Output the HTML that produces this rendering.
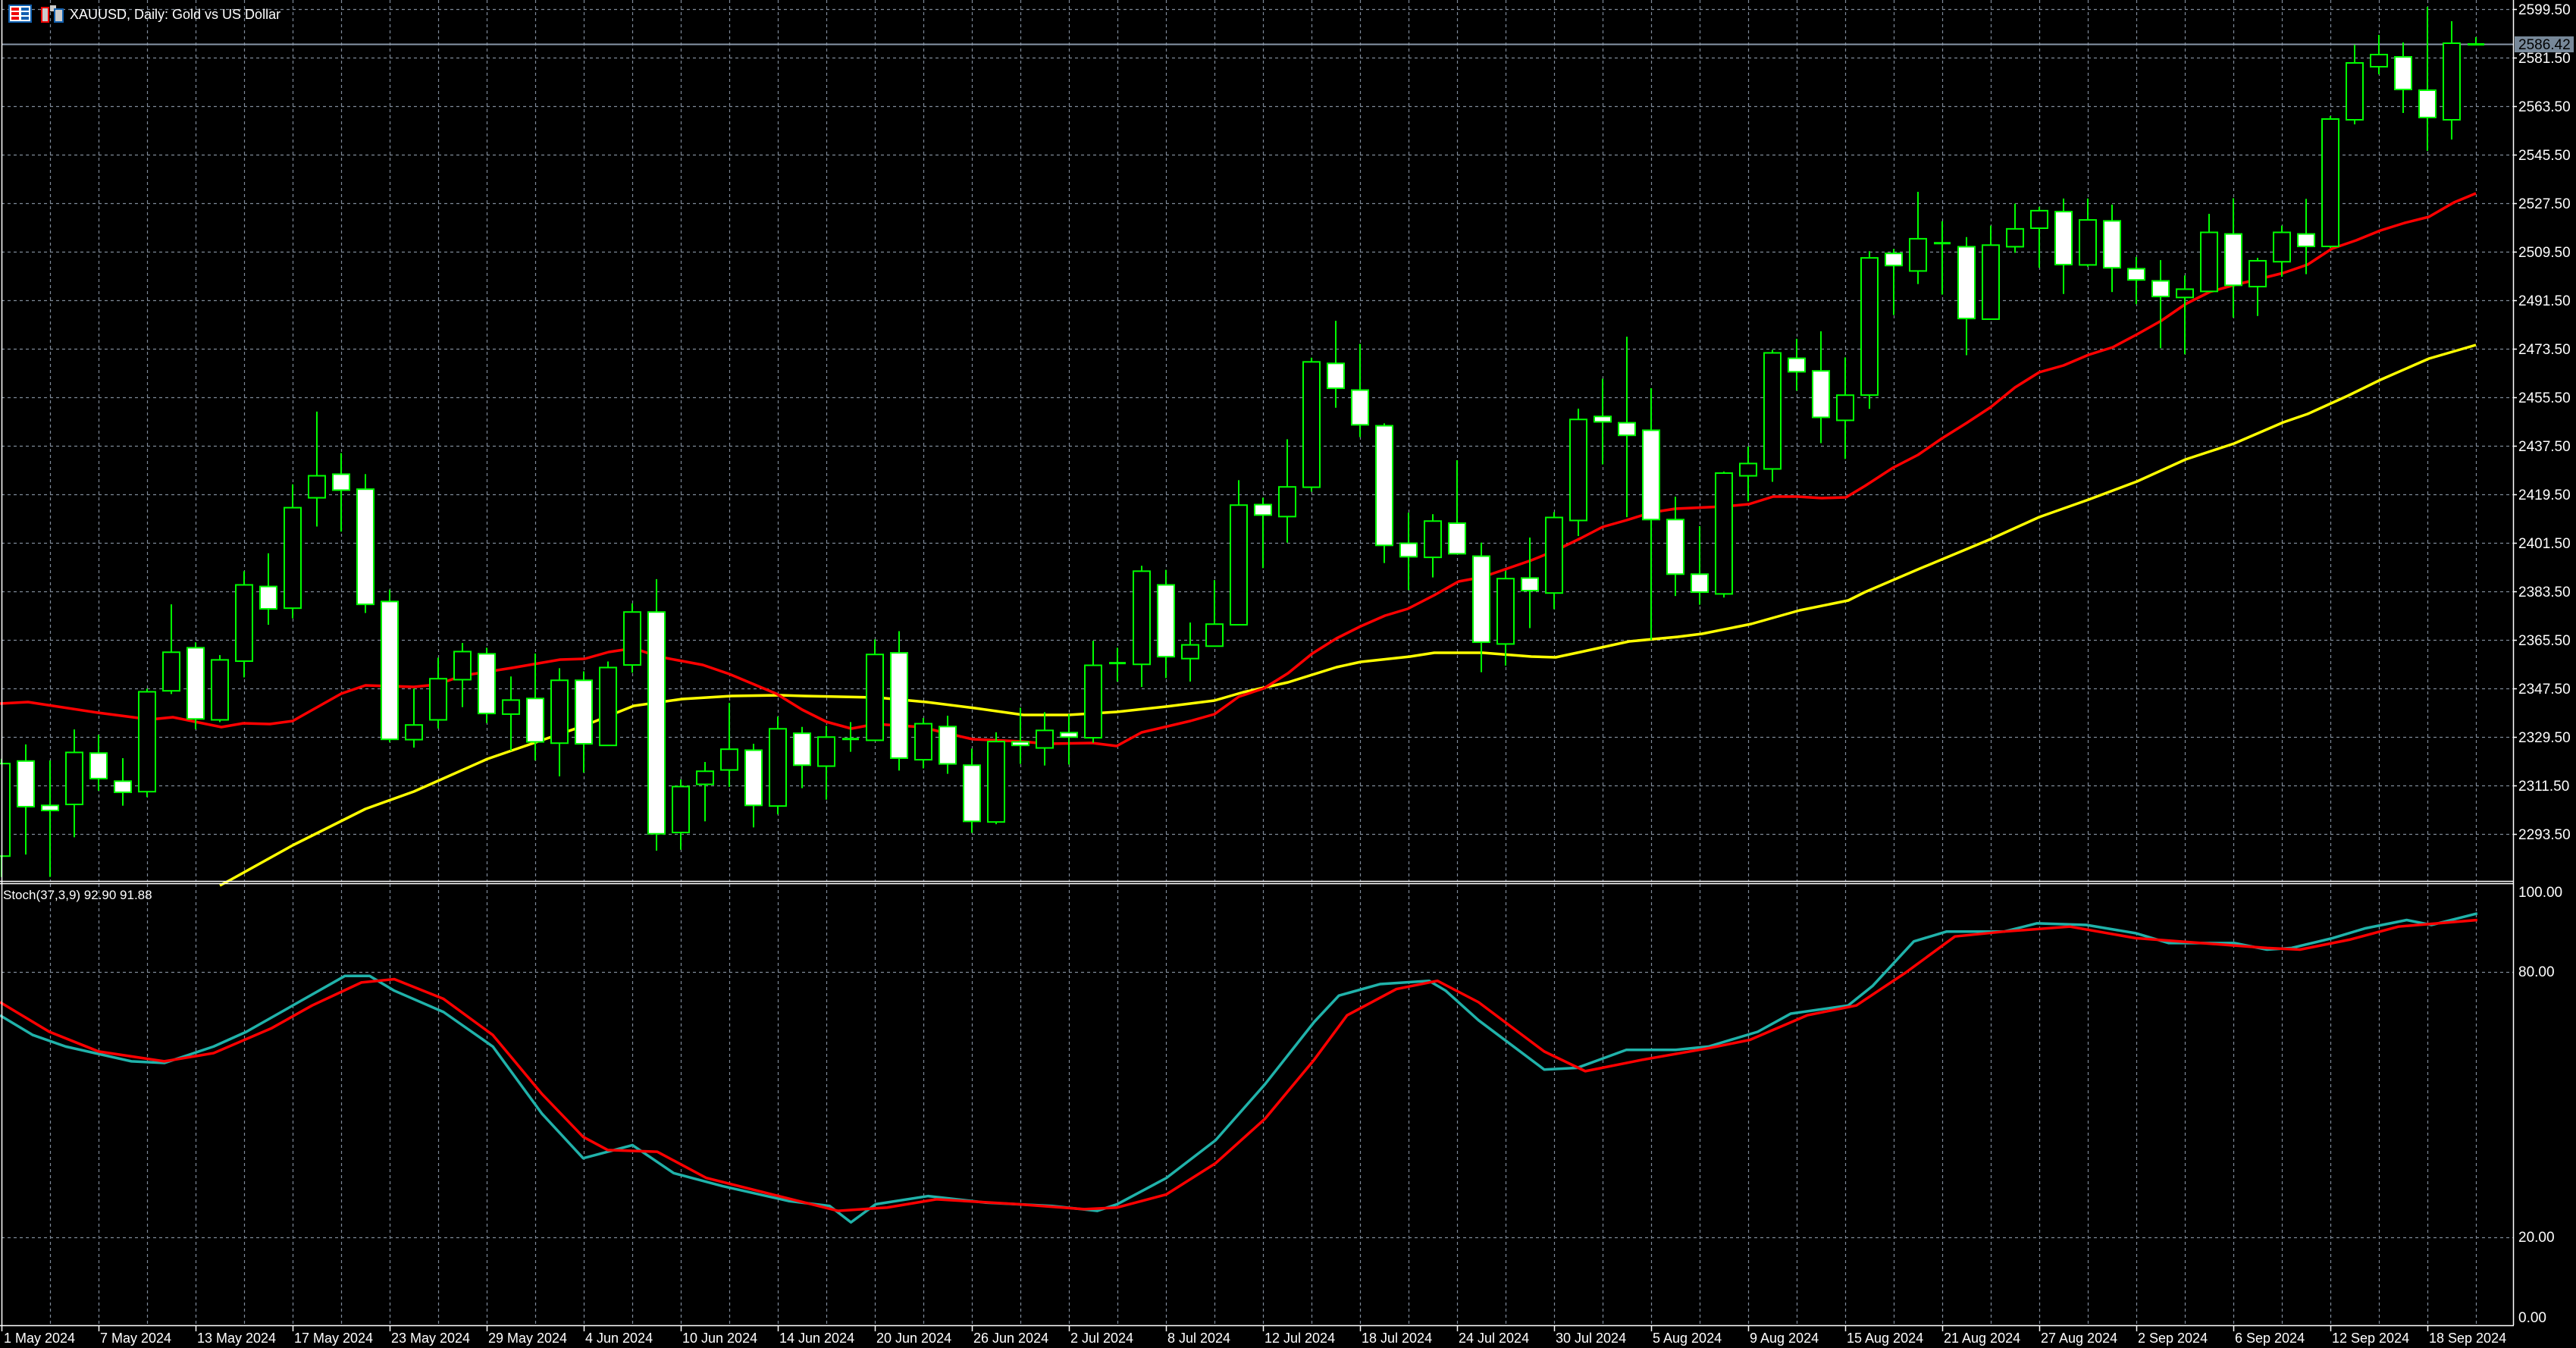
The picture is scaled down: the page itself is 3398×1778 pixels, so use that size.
<!DOCTYPE html>
<html><head><meta charset="utf-8">
<style>
html,body{margin:0;padding:0;background:#000;width:3398px;height:1778px;overflow:hidden}
svg{display:block}
text{font-family:"Liberation Sans",sans-serif}
</style></head>
<body>
<svg id="c" xmlns="http://www.w3.org/2000/svg" width="3398" height="1778" viewBox="0 0 3398 1778">
<rect width="3398" height="1778" fill="#000"/>
<g id="grid"></g>
<g id="ma"></g>
<g id="candles"></g>
<g id="stoch"></g>
<g id="axes"></g>
<!-- title -->
<g>
<rect x="12" y="7" width="29" height="22" fill="#fff" stroke="#1060b0" stroke-width="2"/>
<rect x="15" y="10" width="10" height="4" fill="#e00"/><rect x="15" y="16" width="10" height="4" fill="#e00"/><rect x="15" y="22" width="10" height="4" fill="#e00"/>
<rect x="28" y="10" width="10" height="4" fill="#1060b0"/><rect x="28" y="16" width="10" height="4" fill="#1060b0"/><rect x="28" y="22" width="10" height="4" fill="#1060b0"/>
<rect x="55" y="10" width="9" height="19" fill="#ccc" stroke="#e00" stroke-width="2"/>
<rect x="66" y="7" width="8" height="8" fill="#ccc"/>
<rect x="72" y="12" width="11" height="17" fill="#ccc" stroke="#1060b0" stroke-width="2"/>
<text x="92" y="25" font-size="18" fill="#fff">XAUUSD, Daily:  Gold vs US Dollar</text>
<text x="4" y="1186" font-size="17" fill="#fff">Stoch(37,3,9) 92.90 91.88</text>
</g>
</svg>
<script>
(function(){
var NS="http://www.w3.org/2000/svg";
function el(p,tag,a){var e=document.createElementNS(NS,tag);for(var k in a)e.setAttribute(k,a[k]);p.appendChild(e);return e;}
var grid=document.getElementById('grid'),ma=document.getElementById('ma'),cg=document.getElementById('candles'),sg=document.getElementById('stoch'),ax=document.getElementById('axes');
var gc="#7f8a99";
// horizontal grid main
for(var k=0;k<=17;k++){var y=12+64*k+0.5;el(grid,'line',{x1:2,y1:y,x2:3315,y2:y,stroke:gc,'stroke-width':1.2,'stroke-dasharray':'4 4'});}
// stoch grid
[1282,1632].forEach(function(y){el(grid,'line',{x1:2,y1:y+0.5,x2:3315,y2:y+0.5,stroke:gc,'stroke-width':1.2,'stroke-dasharray':'4 4'});});
// vertical grid
for(var k=1;k<=51;k++){var x=2+64*k+0.5;el(grid,'line',{x1:x,y1:0,x2:x,y2:1162,stroke:gc,'stroke-width':1.2,'stroke-dasharray':'4 4'});el(grid,'line',{x1:x,y1:1166,x2:x,y2:1748,stroke:gc,'stroke-width':1.2,'stroke-dasharray':'4 4'});}
// current price line
el(grid,'line',{x1:2,y1:58.5,x2:3315,y2:58.5,stroke:"#8896a8",'stroke-width':2});

// candles
var segs=[
 {o:500,s:2.376,d:[[1190,1205,1495,1560,'B'],[1145,1197,1340,1490,'W'],[1195,1336,1352,1560,'W'],[1098,1170,1333,1436,'B'],[1115,1172,1252,1290,'W'],[1188,1260,1295,1337,'W'],[970,980,1293,1310,'B'],[706,856,977,987,'B'],[825,842,1065,1097,'W'],[865,880,1068,1075,'B'],[602,645,884,935,'B'],[546,650,720,770,'W'],[330,403,718,750,'B'],[102,303,372,462,'B'],[232,298,348,478,'W'],[298,345,706,733,'W'],[660,697,1129,1138,'W'],[970,1084,1130,1155,'B'],[873,939,1068,1095,'B'],[827,854,942,1028,'B'],[842,861,1048,1078,'W'],[932,1006,1050,1165,'B'],[860,1001,1137,1195,'W'],[906,944,1141,1245,'B'],[916,944,1143,1233,'W'],[885,904,1148,1150,'B'],[703,730,896,920,'B']]},
 {o:500,s:2.376,d:[[627,730,1425,1478,'W'],[1255,1277,1421,1475,'B'],[1200,1229,1270,1386,'B'],[1015,1160,1225,1278,'B'],[1143,1163,1336,1405,'W'],[1058,1096,1338,1364,'B'],[1090,1110,1210,1282,'W'],[1087,1122,1213,1318,'B'],[1075,1126,1130,1168,'D'],[816,863,1132,1132,'B'],[790,858,1188,1227,'W'],[1062,1080,1193,1220,'B'],[1055,1089,1206,1237,'W'],[1158,1210,1386,1422,'W'],[1107,1136,1388,1395,'B'],[1030,1137,1148,1206,'W'],[1044,1101,1156,1211,'B'],[1050,1108,1122,1208,'W'],[820,897,1124,1140,'B'],[842,889,891,948,'D'],[585,602,894,965,'B'],[598,645,870,937,'W'],[763,833,876,948,'B'],[630,768,837,838,'B'],[317,395,770,770,'B']]},
 {o:350,s:2.529,d:[[775,798,833,1010,'W'],[580,739,838,925,'B'],[308,322,740,755,'B'],[185,327,410,475,'W'],[262,416,532,573,'W'],[527,535,934,993,'W'],[825,927,972,1083,'W'],[830,853,974,1041,'B'],[650,860,962,962,'W'],[925,970,1257,1357,'W'],[1020,1045,1263,1335,'B'],[908,1043,1085,1210,'W'],[823,841,1093,1147,'B'],[478,514,851,903,'B'],[378,504,522,664,'W'],[238,525,567,840,'W'],[410,550,848,1250,'W'],[772,848,1030,1103,'W'],[870,1030,1090,1132,'W'],[688,693,1096,1108,'B'],[604,661,702,787,'B'],[282,292,679,722,'B'],[245,310,355,418,'W'],[220,352,507,593,'W'],[307,433,517,646,'B']]},
 {o:200,s:2.376,d:[[312,333,763,806,'B'],[305,319,357,512,'W'],[126,273,374,415,'B'],[218,284,290,448,'W'],[268,298,523,638,'W'],[232,293,525,526,'B'],[163,242,298,317,'B'],[173,185,240,364,'B'],[147,188,354,446,'W'],[147,214,355,361,'B'],[166,217,364,440,'W'],[330,367,402,478,'W'],[340,405,454,616,'W'],[388,431,457,635,'B'],[195,253,438,438,'B'],[146,258,419,520,'W'],[333,342,423,515,'B'],[232,253,345,392,'B'],[148,258,297,384,'W']]},
 {o:0,s:1,d:[[153,157,325,327,'B'],[59,83,158,164,'B'],[46,72,88,98,'B'],[56,75,118,149,'W'],[9,119,155,199,'W'],[28,57,158,184,'B'],[49,58,59,59,'D']]}
];
var i=0,G="#00ff00";
segs.forEach(function(sg2){sg2.d.forEach(function(c){
  var x=2+32*i;var f=function(v){return sg2.o+v/sg2.s;};
  var H=f(c[0]),T=f(c[1]),B=f(c[2]),L=f(c[3]);
  el(cg,'line',{x1:x,y1:H,x2:x,y2:L,stroke:G,'stroke-width':2});
  if(c[4]=='D'||B-T<3){el(cg,'line',{x1:x-11,y1:(T+B)/2,x2:x+11,y2:(T+B)/2,stroke:G,'stroke-width':3});}
  else el(cg,'rect',{x:x-11,y:T,width:22,height:B-T,fill:c[4]=='W'?'#fff':'#000',stroke:G,'stroke-width':2});
  i++;});});

// MAs
var red=[[0,928],[37,926],[129,940],[198,949],[228,946],[292,959],[321,954],[356,955],[386,951],[450,915],[482,904],[546,906],[576,903],[611,891],[675,881],[739,870],[771,869],[803,860],[836,855],[868,866],[927,877],[962,889],[1024,915],[1058,936],[1090,952],[1123,961],[1155,955],[1216,959],[1248,967],[1283,975],[1348,978],[1380,981],[1441,980],[1473,984],[1506,966],[1570,951],[1602,942],[1634,919],[1667,908],[1699,888],[1731,862],[1763,842],[1795,826],[1827,812],[1857,803],[1892,785],[1924,767],[1956,761],[1988,750],[2020,739],[2052,726],[2085,710],[2114,695],[2146,686],[2178,676],[2210,671],[2275,668],[2307,665],[2339,655],[2371,655],[2403,657],[2435,656],[2460,641],[2497,617],[2530,600],[2562,578],[2594,558],[2626,537],[2658,511],[2690,491],[2722,482],[2755,468],[2787,458],[2819,441],[2851,423],[2883,401],[2915,385],[2947,376],[2980,368],[3012,360],[3044,349],[3076,328],[3108,317],[3140,304],[3172,294],[3204,286],[3237,267],[3266,255]];
var yel=[[290,1168],[305,1160],[386,1115],[482,1067],[546,1044],[643,1001],[707,979],[771,957],[836,931],[900,922],[965,918],[1029,917],[1061,918],[1157,920],[1222,926],[1286,934],[1350,943],[1409,943],[1473,939],[1538,932],[1602,924],[1640,913],[1699,900],[1763,880],[1795,873],[1860,866],[1892,861],[1956,861],[2020,866],[2052,867],[2085,860],[2117,853],[2149,846],[2213,840],[2245,836],[2310,823],[2374,805],[2438,792],[2460,781],[2530,751],[2626,711],[2690,682],[2755,659],[2819,635],[2883,606],[2947,585],[3012,557],[3044,546],[3097,522],[3140,501],[3204,473],[3266,455]];
function pl(g,pts,col,w){el(g,'polyline',{points:pts.map(function(p){return p[0]+','+p[1];}).join(' '),fill:'none',stroke:col,'stroke-width':w,'stroke-linejoin':'round'});}
pl(ma,yel,'#ffff00',3.5);pl(ma,red,'#ff0000',3.5);

// stoch (display coords *2.167)
var k=2.167;
var cy=[[0,618],[20,630],[40,637],[80,646],[100,647],[130,637],[150,628],[180,611],[210,594],[225,594],[240,603],[270,616],[300,637],[330,678],[355,705],[385,697],[410,714],[440,722],[480,731],[505,734],[518,744],[533,733],[565,728],[600,732],[640,734],[668,737],[680,733],[710,717],[740,694],[770,660],[800,622],[815,606],[840,599],[870,597],[880,603],[900,621],[920,636],[940,651],[960,650],[990,639],[1020,639],[1040,637],[1070,628],[1090,617],[1125,612],[1140,600],[1165,573],[1185,567],[1220,567],[1240,562],[1270,563],[1300,568],[1320,574],[1360,574],[1380,578],[1395,577],[1420,571],[1440,565],[1465,560],[1480,563],[1508,556]];
var rs=[[0,610],[30,628],[60,640],[100,646],[130,641],[165,626],[190,612],[220,598],[240,596],[270,608],[300,630],[330,666],[355,692],[370,700],[400,701],[430,717],[470,727],[510,737],[540,735],[570,730],[620,733],[660,736],[680,735],[710,727],[740,708],[770,681],[800,645],[820,618],[850,602],[875,597],[900,610],[940,640],[965,652],[1000,645],[1040,638],[1065,633],[1100,618],[1130,612],[1160,592],[1190,570],[1220,567],[1260,564],[1300,571],[1340,574],[1380,577],[1400,578],[1430,572],[1460,564],[1508,560]];
function sc(a){return a.map(function(p){return [p[0]*k,p[1]*k];});}
pl(sg,sc(cy),'#20b2aa',3.5);pl(sg,sc(rs),'#ff0000',3.5);

// axes lines
el(ax,'line',{x1:2.5,y1:0,x2:2.5,y2:1748,stroke:'#fff','stroke-width':1.5});
el(ax,'line',{x1:3315.5,y1:0,x2:3315.5,y2:1748,stroke:'#fff','stroke-width':1.5});
el(ax,'line',{x1:0,y1:1162.5,x2:3316,y2:1162.5,stroke:'#fff','stroke-width':1.5});
el(ax,'line',{x1:0,y1:1165.5,x2:3316,y2:1165.5,stroke:'#fff','stroke-width':1.5});
el(ax,'line',{x1:0,y1:1748.5,x2:3316,y2:1748.5,stroke:'#fff','stroke-width':1.5});
// price labels
for(var j=0;j<=17;j++){var p=2599.5-18*j;var y=12+64*j;
  el(ax,'line',{x1:3315,y1:y+0.5,x2:3320,y2:y+0.5,stroke:'#fff','stroke-width':1.5});
  var t=el(ax,'text',{x:3322,y:y+7,'font-size':19,fill:'#fff'});t.textContent=p.toFixed(2);}
// current price box
el(ax,'rect',{x:3317,y:48,width:78,height:21,fill:'#778899'});
var t=el(ax,'text',{x:3322,y:65,'font-size':19,fill:'#000'});t.textContent='2586.42';
// stoch labels
[[100,1177],[80,1288],[20,1638],[0,1744]].forEach(function(a){var t=el(ax,'text',{x:3322,y:a[1]+(a[0]==100?6:0),'font-size':19,fill:'#fff'});t.textContent=a[0].toFixed(2);});
// date labels
var dates=['1 May 2024','7 May 2024','13 May 2024','17 May 2024','23 May 2024','29 May 2024','4 Jun 2024','10 Jun 2024','14 Jun 2024','20 Jun 2024','26 Jun 2024','2 Jul 2024','8 Jul 2024','12 Jul 2024','18 Jul 2024','24 Jul 2024','30 Jul 2024','5 Aug 2024','9 Aug 2024','15 Aug 2024','21 Aug 2024','27 Aug 2024','2 Sep 2024','6 Sep 2024','12 Sep 2024','18 Sep 2024'];
dates.forEach(function(d,j){var x=2+128*j;
  el(ax,'line',{x1:x+0.5,y1:1748,x2:x+0.5,y2:1756,stroke:'#fff','stroke-width':1.5});
  var t=el(ax,'text',{x:x+(j==0?3:2),y:1771,'font-size':18,fill:'#fff'});t.textContent=d;});
})();
</script>
</body></html>
